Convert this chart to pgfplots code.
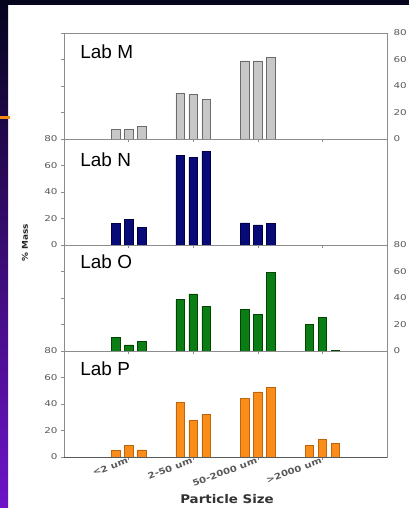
\documentclass[border=0pt]{standalone}
\usepackage{pgfplots}
\pgfplotsset{compat=1.18}
\usepackage{fontspec}
\setmainfont{Liberation Sans}
\newfontfamily\tickfont[FakeStretch=1.3]{DejaVu Sans}
\newfontfamily\catfont[FakeStretch=1.2]{DejaVu Sans}
\newfontfamily\titlefont[FakeStretch=1.12]{DejaVu Sans}
\definecolor{axgray}{gray}{0.55}
\definecolor{basegray}{gray}{0.35}
\definecolor{labgray}{gray}{0.35}
\definecolor{mfill}{gray}{0.78}
\definecolor{mdraw}{gray}{0.42}
\definecolor{nfill}{RGB}{8,10,120}
\definecolor{ndraw}{RGB}{0,0,70}
\definecolor{ofill}{RGB}{10,125,20}
\definecolor{odraw}{RGB}{0,70,0}
\definecolor{pfill}{RGB}{250,140,25}
\definecolor{pdraw}{RGB}{190,100,10}
\definecolor{bgtop}{RGB}{5,5,30}
\definecolor{bgmid}{RGB}{20,25,170}
\definecolor{bgbot}{RGB}{110,20,200}
\definecolor{accent}{RGB}{240,140,20}
\pgfplotsset{
  panel/.style={
    at={(64bp,#1)}, anchor=south west, scale only axis,
    width=323bp, height=106bp,
    xmin=0, xmax=5, ymin=0, ymax=80,
    xtick={1,2,3,4}, xticklabels={,,,,},
    ytick={0,20,40,60,80},
    xtick pos=bottom, ytick pos=left, tick align=outside,
    major tick length=3bp,
    axis line style={draw=axgray, line width=0.9pt},
    tick style={draw=axgray, line width=0.6pt},
    ybar, bar width=8.5bp,
    /pgf/number format/assume math mode=true,
    yticklabel style={font=\tickfont\fontsize{8}{9}\selectfont, text=labgray},
    clip=false,
  },
  sA/.style={bar shift=-13bp, line width=0.6pt},
  sB/.style={bar shift=0bp, line width=0.6pt},
  sC/.style={bar shift=13bp, line width=0.6pt},
}
\begin{document}
\begin{tikzpicture}[x=1bp,y=1bp]
\useasboundingbox (0,0) rectangle (409,508);
\fill[white] (0,0) rectangle (409,508);
\shade[top color=bgtop, middle color=bgmid, bottom color=bgbot] (0,0) rectangle (8,508);
\fill[bgtop] (0,503) rectangle (409,508);
\fill[accent] (0,389) rectangle (10,392);

% Lab M
\begin{axis}[panel=369bp, yticklabel pos=right]
\addplot[sA, fill=mfill, draw=mdraw] coordinates {(1,7.3) (2,34.4) (3,58.9)};
\addplot[sB, fill=mfill, draw=mdraw] coordinates {(1,7.3) (2,33.6) (3,58.9)};
\addplot[sC, fill=mfill, draw=mdraw] coordinates {(1,9.3) (2,29.6) (3,61.5)};
\draw[basegray, line width=0.9pt] (rel axis cs:0,0) -- (rel axis cs:1,0);
\node[anchor=west, font=\fontsize{19}{20}\selectfont] at (rel axis cs:0.04,0.82) {Lab M};
\end{axis}

% Lab N
\begin{axis}[panel=263bp]
\addplot[sA, fill=nfill, draw=ndraw] coordinates {(1,16.2) (2,67.6) (3,16.7)};
\addplot[sB, fill=nfill, draw=ndraw] coordinates {(1,19.1) (2,65.9) (3,15.2)};
\addplot[sC, fill=nfill, draw=ndraw] coordinates {(1,13.1) (2,70.8) (3,16.2)};
\draw[basegray, line width=0.9pt] (rel axis cs:0,0) -- (rel axis cs:1,0);
\node[anchor=west, font=\fontsize{19}{20}\selectfont] at (rel axis cs:0.04,0.80) {Lab N};
\end{axis}

% Lab O
\begin{axis}[panel=157bp, yticklabel pos=right]
\addplot[sA, fill=ofill, draw=odraw] coordinates {(1,10.4) (2,38.8) (3,31.2) (4,20.3)};
\addplot[sB, fill=ofill, draw=odraw] coordinates {(1,4.6) (2,43.1) (3,27.9) (4,25.1)};
\addplot[sC, fill=ofill, draw=odraw] coordinates {(1,7.1) (2,33.7) (3,59.5) (4,0.5)};
\draw[basegray, line width=0.9pt] (rel axis cs:0,0) -- (rel axis cs:1,0);
\node[anchor=west, font=\fontsize{19}{20}\selectfont] at (rel axis cs:0.04,0.84) {Lab O};
\end{axis}

% Lab P
\begin{axis}[panel=51bp,
  xticklabels={{<2 um},{2-50 um},{50-2000 um},{>2000 um}},
  xticklabel style={font=\catfont\bfseries\fontsize{8.5}{9.5}\selectfont, text=labgray, rotate=20, anchor=east, inner sep=1bp}]
\addplot[sA, fill=pfill, draw=pdraw] coordinates {(1,5.0) (2,41.3) (3,44.3) (4,8.5)};
\addplot[sB, fill=pfill, draw=pdraw] coordinates {(1,8.8) (2,27.9) (3,49.1) (4,13.4)};
\addplot[sC, fill=pfill, draw=pdraw] coordinates {(1,5.3) (2,32.2) (3,52.3) (4,10.0)};
\draw[basegray, line width=0.9pt] (rel axis cs:0,0) -- (rel axis cs:1,0);
\node[anchor=west, font=\fontsize{19}{20}\selectfont] at (rel axis cs:0.04,0.83) {Lab P};
\end{axis}

\node[rotate=90, font=\titlefont\bfseries\fontsize{8}{9}\selectfont, text=black!85] at (25,265) {\% Mass};
\node[font=\titlefont\bfseries\fontsize{12}{13}\selectfont, text=black!80] at (227,9) {Particle Size};
\end{tikzpicture}
\end{document}
